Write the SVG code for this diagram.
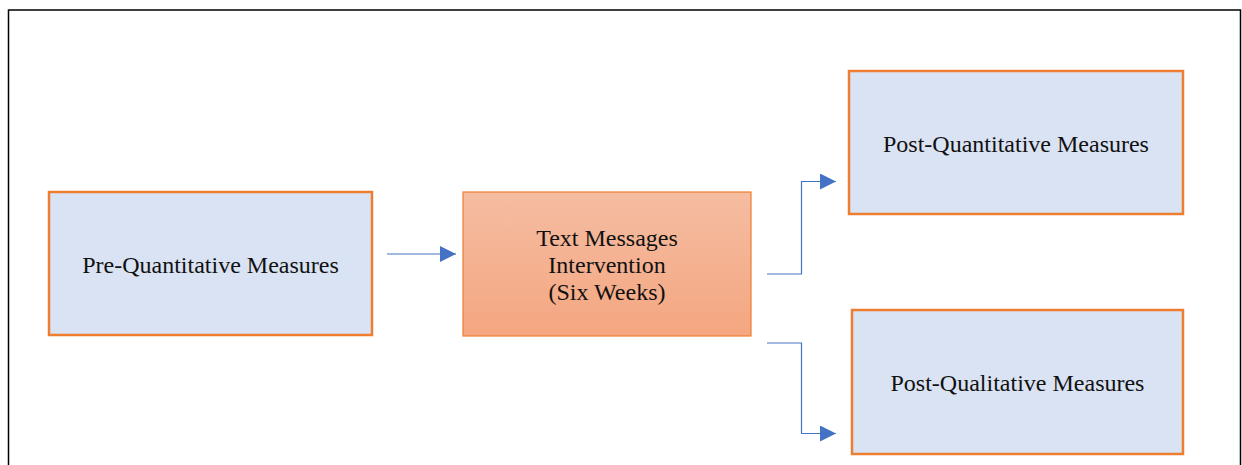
<svg xmlns="http://www.w3.org/2000/svg" width="1242" height="465" viewBox="0 0 1242 465">
  <style>
    .box { fill: #DAE3F3; stroke: #ED7D31; stroke-width: 2.5; }
    .label { font-family: "Liberation Serif", "Times New Roman", serif; font-size: 24px; fill: #111111; text-anchor: middle; }
    .conn { fill: none; stroke: #4472C4; stroke-width: 1.2; }
  </style>
  <defs>
    <linearGradient id="peach" x1="0" y1="0" x2="0" y2="1">
      <stop offset="0" stop-color="#F5BDA2"/>
      <stop offset="1" stop-color="#F4A680"/>
    </linearGradient>
    <marker id="head" markerWidth="16" markerHeight="16" refX="16" refY="8" orient="auto" markerUnits="userSpaceOnUse">
      <path d="M0,0 L16,8 L0,16 Z" fill="#4472C4"/>
    </marker>
  </defs>

  <rect width="1242" height="465" fill="#FFFFFF"/>

  <!-- outer frame, open at the bottom -->
  <path d="M8.5,465 V10 H1240.5 V465" fill="none" stroke="#000000" stroke-width="1.5"/>

  <g id="pre-quantitative">
    <rect class="box" x="49" y="192" width="323" height="143"/>
    <text class="label" x="210.5" y="273">Pre-Quantitative Measures</text>
  </g>

  <g id="intervention">
    <rect x="463" y="192" width="288" height="144" fill="url(#peach)" stroke="#ED7D31" stroke-width="1.2"/>
    <text class="label" x="607" y="246">Text Messages</text>
    <text class="label" x="607" y="273">Intervention</text>
    <text class="label" x="607" y="300">(Six Weeks)</text>
  </g>

  <g id="post-quantitative">
    <rect class="box" x="849" y="71" width="334" height="143"/>
    <text class="label" x="1016" y="152">Post-Quantitative Measures</text>
  </g>

  <g id="post-qualitative">
    <rect class="box" x="852" y="310" width="331" height="144"/>
    <text class="label" x="1017.5" y="391">Post-Qualitative Measures</text>
  </g>

  <g id="connectors">
    <path class="conn" d="M387,254 H456" marker-end="url(#head)"/>
    <path class="conn" d="M767,274 H801.5 V181.5 H836" marker-end="url(#head)"/>
    <path class="conn" d="M767,343 H801.5 V433.5 H836" marker-end="url(#head)"/>
  </g>
</svg>
